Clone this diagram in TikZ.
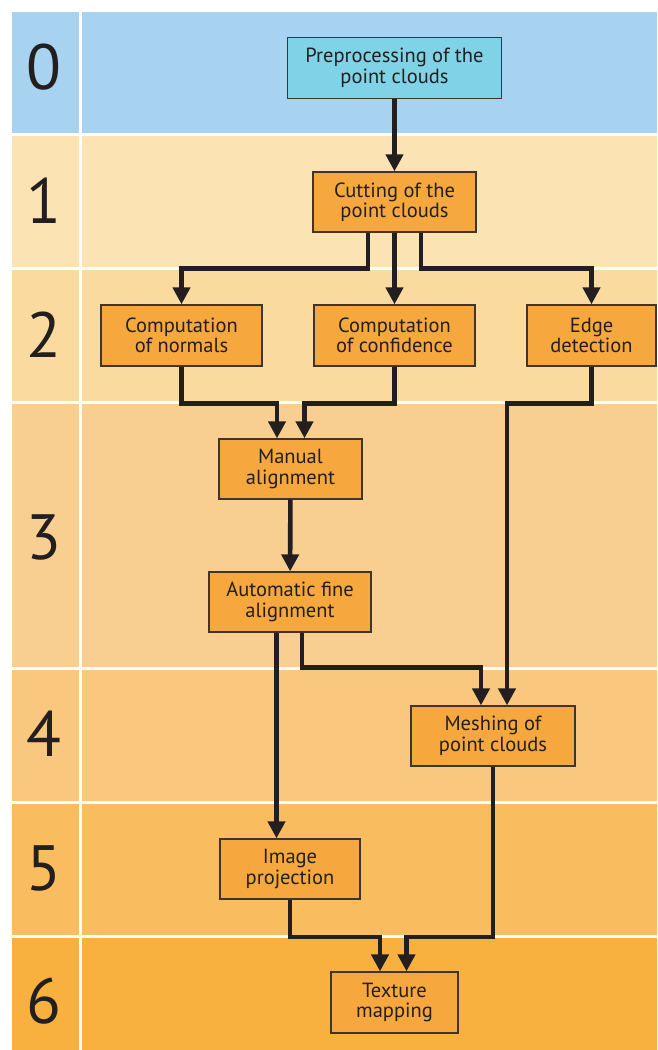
\documentclass[tikz,border=0pt]{standalone}
\usepackage{fontspec}
\setmainfont{PT Sans}
\usetikzlibrary{arrows.meta}
\definecolor{bandA}{HTML}{A7D3F0}
\definecolor{bandB}{HTML}{FCE3B3}
\definecolor{bandC}{HTML}{FADA9E}
\definecolor{bandD}{HTML}{F9CE91}
\definecolor{bandE}{HTML}{F9C77E}
\definecolor{bandF}{HTML}{F9BC5E}
\definecolor{bandG}{HTML}{F8B03E}
\definecolor{boxorange}{HTML}{F6A83F}
\definecolor{boxcyan}{HTML}{80D3E6}
\definecolor{boxline}{HTML}{3C3530}
\definecolor{arrowc}{HTML}{231F20}
\begin{document}
\begin{tikzpicture}[x=1pt,y=-1pt,
  stepbox/.style={draw=boxline, line width=1.3pt, fill=boxorange, align=center,
    font=\fontsize{20.5}{20.5}\selectfont, text=arrowc, inner sep=0pt},
  digit/.style={font=\fontsize{64}{64}\selectfont, text=arrowc, inner sep=0pt},
  arr/.style={draw=arrowc, line width=4.6pt, -{Triangle[width=17pt,length=17pt]}},
  sep/.style={draw=white, line width=3pt}]
\useasboundingbox (0,0) rectangle (657,1050);
% bands
\fill[bandA] (12,12) rectangle (657,134);
\fill[bandB] (12,134) rectangle (657,268);
\fill[bandC] (12,268) rectangle (657,402);
\fill[bandD] (12,402) rectangle (657,668);
\fill[bandE] (12,668) rectangle (657,802);
\fill[bandF] (12,802) rectangle (657,936);
\fill[bandG] (12,936) rectangle (657,1050);
\foreach \yy in {134,268,402,668,802,936} \draw[sep] (12,\yy) -- (657,\yy);
\draw[sep] (80,12) -- (80,1050);
% digits
\node[digit] (d0) at (44,67) {0};
\node[digit] (d1) at (44,201) {1};
\node[digit] (d2) at (44,335) {2};
\node[digit] (d3) at (44,537) {3};
\node[digit] (d4) at (44,734) {4};
\node[digit] (d5) at (44,868) {5};
\node[digit] (d6) at (44,1001) {6};
% boxes
\node[stepbox, fill=boxcyan, minimum width=214, minimum height=61] (pre) at (394.5,68) {Preprocessing of the\\point clouds};
\node[stepbox, minimum width=163, minimum height=60] (cut) at (394.5,202) {Cutting of the\\point clouds};
\node[stepbox, minimum width=161, minimum height=61] (nor) at (181.5,335.5) {Computation\\of normals};
\node[stepbox, minimum width=161, minimum height=61] (con) at (394.5,335.5) {Computation\\of confidence};
\node[stepbox, minimum width=129, minimum height=61] (edg) at (591.5,335.5) {Edge\\detection};
\node[stepbox, minimum width=143, minimum height=60] (man) at (290.5,469) {Manual\\alignment};
\node[stepbox, minimum width=162, minimum height=60] (aut) at (290,602) {Automatic fine\\alignment};
\node[stepbox, minimum width=164, minimum height=60] (mes) at (493,736) {Meshing of\\point clouds};
\node[stepbox, minimum width=140, minimum height=60] (img) at (290,869) {Image\\projection};
\node[stepbox, minimum width=127, minimum height=61] (tex) at (394.5,1002.5) {Texture\\mapping};
% connectors
\draw[arr] (pre) -- (cut);
\draw[arr] ([xshift=-26.5]cut.south) -- ++(0,36) -| (nor.north);
\draw[arr] (cut) -- (con);
\draw[arr] ([xshift=26.5]cut.south) -- ++(0,36) -| (edg.north);
\draw[arr] (nor.south) -- ++(0,37) -| ([xshift=-13.5]man.north);
\draw[arr] (con.south) -- ++(0,37) -| ([xshift=14]man.north);
\draw[arr] (edg.south) -- ++(0,37) -| ([xshift=14]mes.north);
\draw[arr] (man) -- (aut);
\draw[arr] ([xshift=12]aut.south) -- ++(0,35) -| ([xshift=-12]mes.north);
\draw[arr] ([xshift=-13.5]aut.south) -- ([xshift=-13.5]img.north);
\draw[arr] (img.south) -- ++(0,37.5) -| ([xshift=-14.5]tex.north);
\draw[arr] (mes.south) -- ++(0,170.5) -| ([xshift=12]tex.north);
\end{tikzpicture}
\end{document}
